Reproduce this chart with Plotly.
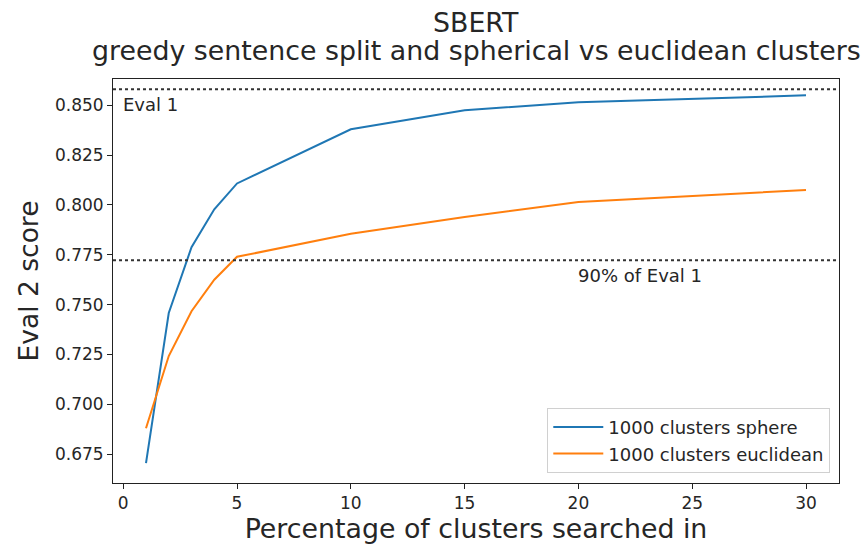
import plotly.graph_objects as go

pct = [1, 2, 3, 4, 5, 10, 15, 20, 30]
sphere = [0.6705, 0.7458, 0.7788, 0.7978, 0.8108, 0.8380, 0.8475, 0.8515, 0.8550]
euclid = [0.6880, 0.7242, 0.7467, 0.7625, 0.7740, 0.7855, 0.7940, 0.8015, 0.8075]
eval1 = 0.858
ratio = 0.9
xticks = [0, 5, 10, 15, 20, 25, 30]
yticks = [0.675, 0.700, 0.725, 0.750, 0.775, 0.800, 0.825, 0.850]
title_lines = ["SBERT", "greedy sentence split and spherical vs euclidean clusters"]

font = "DejaVu Sans"
TC = "#262626"
L, R, T, B = 113, 25, 79, 62
W, H = 864, 545
ph = H - T - B

fig = go.Figure()
fig.add_trace(go.Scatter(x=pct, y=sphere, mode="lines", name="1000 clusters sphere",
                         line=dict(color="#1f77b4", width=2)))
fig.add_trace(go.Scatter(x=pct, y=euclid, mode="lines", name="1000 clusters euclidean",
                         line=dict(color="#ff7f0e", width=2)))

for yv in [eval1, eval1 * ratio]:
    fig.add_shape(type="line", xref="paper", x0=0, x1=1, yref="y", y0=yv, y1=yv,
                  line=dict(color="#333333", width=2, dash="dot"))

fig.add_annotation(x=0, y=eval1, text="Eval 1", showarrow=False, xanchor="left",
                   yanchor="top", yshift=-3, xshift=-2, font=dict(family=font, size=18, color=TC))
fig.add_annotation(x=20, y=eval1 * ratio, text="90% of Eval 1", showarrow=False, xanchor="left",
                   yanchor="top", yshift=-3, xshift=-2, font=dict(family=font, size=18, color=TC))

for i, (txt, ypx) in enumerate(zip(title_lines, [22, 51])):
    fig.add_annotation(xref="paper", yref="paper", x=0.5, y=1 + (T - ypx) / ph, text=txt,
                       showarrow=False, xanchor="center", yanchor="middle",
                       font=dict(family=font, size=26.8, color=TC))

fig.update_layout(
    width=W, height=H,
    margin=dict(l=L, r=R, t=T, b=B, autoexpand=False),
    paper_bgcolor="white", plot_bgcolor="white",
    font=dict(family=font, size=17, color=TC),
    legend=dict(x=0.988, y=0.025, xanchor="right", yanchor="bottom",
                bordercolor="#d0d0d0", borderwidth=1, bgcolor="rgba(255,255,255,0.8)",
                font=dict(family=font, size=18, color=TC), tracegroupgap=0, itemwidth=50),
    showlegend=True,
)
fig.update_xaxes(range=[-0.45, 31.45], tickvals=xticks, ticktext=[str(t) for t in xticks],
                 showgrid=False, zeroline=False, showline=True, mirror=True,
                 linecolor="#222", linewidth=1, ticks="outside", ticklen=5, tickcolor="#222",
                 tickfont=dict(family=font, size=17, color=TC),
                 title=dict(text="Percentage of clusters searched in",
                            font=dict(family=font, size=26.8, color=TC), standoff=4))
fig.update_yaxes(range=[0.6605, 0.8632], tickvals=yticks, ticktext=[f"{t:.3f}" for t in yticks],
                 showgrid=False, zeroline=False, showline=True, mirror=True,
                 linecolor="#222", linewidth=1, ticks="outside", ticklen=5, tickcolor="#222",
                 tickfont=dict(family=font, size=17, color=TC),
                 title=dict(text="Eval 2 score", font=dict(family=font, size=26.5, color=TC),
                            standoff=8))
fig.write_html("out.html", config={"displayModeBar": False},
               post_script="document.body.style.margin='0';")
